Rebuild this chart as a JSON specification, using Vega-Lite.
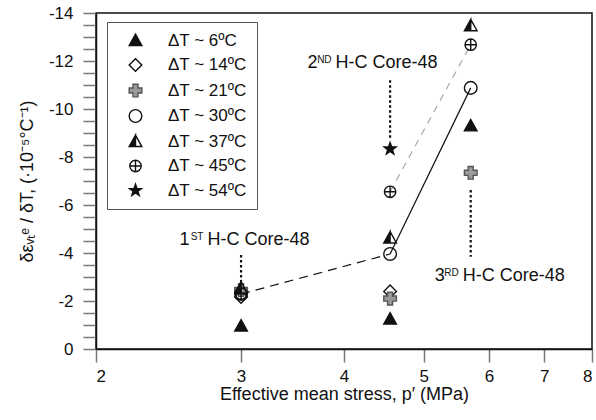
{
  "$schema": "https://vega.github.io/schema/vega-lite/v6.json",
  "width": 496,
  "height": 336,
  "autosize": "none",
  "padding": {"left": 96, "top": 13, "right": 4, "bottom": 71},
  "config": {
    "font": "Liberation Sans",
    "view": {"stroke": "#111", "strokeWidth": 1.5},
    "axis": {
      "domainColor": "#111", "domainWidth": 1.5,
      "tickColor": "#777", "tickWidth": 1.5,
      "labelFont": "Liberation Sans", "labelFontSize": 17, "labelColor": "#111",
      "titleFont": "Liberation Sans", "titleFontSize": 18, "titleFontWeight": "normal", "titleColor": "#111",
      "grid": false
    },
    "legend": {"labelFontSize": 17, "labelFont": "Liberation Sans", "labelColor": "#111", "labelOffset": 24, "rowPadding": 6.5, "padding": 10, "symbolOffset": 10, "strokeColor": "#555", "fillColor": "white", "labelLimit": 200, "symbolStrokeWidth": 1.4, "symbolSize": 160}
  },
  "encoding": {
    "x": {
      "field": "x", "type": "quantitative",
      "scale": {"type": "log", "domain": [2, 8], "nice": false},
      "axis": {
        "values": [2, 3, 4, 5, 6, 7, 8],
        "labelExpr": "'' + datum.value",
        "tickSize": 13, "labelPadding": 6, "titlePadding": 1,
        "title": "Effective mean stress, p′ (MPa)"
      }
    },
    "y": {
      "field": "y", "type": "quantitative",
      "scale": {"domain": [0, -14], "nice": false, "zero": false},
      "axis": {
        "values": [0, -0.5, -1, -1.5, -2, -2.5, -3, -3.5, -4, -4.5, -5, -5.5, -6, -6.5, -7, -7.5, -8, -8.5, -9, -9.5, -10, -10.5, -11, -11.5, -12, -12.5, -13, -13.5, -14],
        "labelExpr": "datum.value % 2 === 0 ? '' + datum.value : ''",
        "tickSize": 13,
        "encode": {"ticks": {"update": {"x2": {"signal": "datum.value % 2 === 0 ? -13 : -5"}}}},
        "labelPadding": 10, "titlePadding": 12,
        "title": "δεᵥₜᵉ / δT, (·10⁻⁵°C⁻¹)"
      }
    }
  },
  "layer": [
    {
      "data": {"values": [{"x": 3.0, "y": -2.29}, {"x": 4.55, "y": -3.96}]},
      "mark": {"type": "line", "strokeWidth": 1.2, "color": "#111", "strokeDash": [9, 6]}
    },
    {
      "data": {"values": [{"x": 4.55, "y": -3.96}, {"x": 5.7, "y": -10.88}]},
      "mark": {"type": "line", "strokeWidth": 1.2, "color": "#111"}
    },
    {
      "data": {"values": [{"x": 4.55, "y": -6.55}, {"x": 5.7, "y": -12.68}]},
      "mark": {"type": "line", "strokeWidth": 1.2, "color": "#aaa", "strokeDash": [7, 6]}
    },
    {
      "data": {"values": [
        {"x": 3.0, "y": -3.92, "y2": -2.75},
        {"x": 4.55, "y": -11.2, "y2": -8.7},
        {"x": 5.7, "y": -6.63, "y2": -3.84}
      ]},
      "mark": {"type": "rule", "color": "#111", "strokeWidth": 2.2, "strokeDash": [2.5, 2.5]},
      "encoding": {"y2": {"field": "y2"}}
    },
    {
      "data": {"values": [
        {"x": 2.731, "y": -4.34, "t": "H-C Core-48"},
        {"x": 3.907, "y": -11.72, "t": "H-C Core-48"},
        {"x": 5.575, "y": -2.84, "t": "H-C Core-48"}
      ]},
      "mark": {"type": "text", "align": "left", "baseline": "alphabetic", "fontSize": 18, "font": "Liberation Sans", "color": "#111"},
      "encoding": {"text": {"field": "t", "type": "nominal"}}
    },
    {
      "data": {"values": [
        {"x": 2.731, "y": -4.34, "t": "ST"},
        {"x": 3.907, "y": -11.72, "t": "ND"},
        {"x": 5.575, "y": -2.84, "t": "RD"}
      ]},
      "mark": {"type": "text", "align": "right", "baseline": "alphabetic", "fontSize": 10, "dx": -4, "dy": -5, "font": "Liberation Sans", "color": "#111"},
      "encoding": {"text": {"field": "t", "type": "nominal"}}
    },
    {
      "data": {"values": [
        {"x": 2.731, "y": -4.34, "t": "1"},
        {"x": 3.907, "y": -11.72, "t": "2"},
        {"x": 5.575, "y": -2.84, "t": "3"}
      ]},
      "mark": {"type": "text", "align": "right", "baseline": "alphabetic", "fontSize": 18, "dx": -18, "font": "Liberation Sans", "color": "#111"},
      "encoding": {"text": {"field": "t", "type": "nominal"}}
    },
    {
      "data": {"values": [
        {"s": "ΔT ~ 6ºC", "x": 3.0, "y": -0.96},
        {"s": "ΔT ~ 6ºC", "x": 4.55, "y": -1.25},
        {"s": "ΔT ~ 6ºC", "x": 5.7, "y": -9.3},
        {"s": "ΔT ~ 14ºC", "x": 3.0, "y": -2.17},
        {"s": "ΔT ~ 14ºC", "x": 4.55, "y": -2.4},
        {"s": "ΔT ~ 21ºC", "x": 3.0, "y": -2.46},
        {"s": "ΔT ~ 21ºC", "x": 4.55, "y": -2.1},
        {"s": "ΔT ~ 21ºC", "x": 5.7, "y": -7.34},
        {"s": "ΔT ~ 30ºC", "x": 3.0, "y": -2.29},
        {"s": "ΔT ~ 30ºC", "x": 4.55, "y": -3.96},
        {"s": "ΔT ~ 30ºC", "x": 5.7, "y": -10.88},
        {"s": "ΔT ~ 37ºC", "x": 3.0, "y": -2.54},
        {"s": "ΔT ~ 37ºC", "x": 4.55, "y": -4.63},
        {"s": "ΔT ~ 37ºC", "x": 5.7, "y": -13.47},
        {"s": "ΔT ~ 45ºC", "x": 3.0, "y": -2.3},
        {"s": "ΔT ~ 45ºC", "x": 4.55, "y": -6.55},
        {"s": "ΔT ~ 45ºC", "x": 5.7, "y": -12.68},
        {"s": "ΔT ~ 54ºC", "x": 4.55, "y": -8.34}
      ]},
      "mark": {"type": "point", "filled": true, "strokeWidth": 1.4, "size": 160, "opacity": 1},
      "encoding": {
        "shape": {
          "field": "s", "type": "nominal", "title": null,
          "scale": {
            "domain": ["ΔT ~ 6ºC", "ΔT ~ 14ºC", "ΔT ~ 21ºC", "ΔT ~ 30ºC", "ΔT ~ 37ºC", "ΔT ~ 45ºC", "ΔT ~ 54ºC"],
            "range": [
              "M0,-1L1,0.8L-1,0.8Z",
              "diamond",
              "cross",
              "circle",
              "M0,-1L-1,0.8L0,0.8ZM0,-1L1,0.8L0,0.8L1,0.8Z",
              "M-0.9,0C-0.9,-0.5,-0.5,-0.9,0,-0.9C0.5,-0.9,0.9,-0.5,0.9,0C0.9,0.5,0.5,0.9,0,0.9C-0.5,0.9,-0.9,0.5,-0.9,0ZM-0.9,0L0.9,0M0,-0.9L0,0.9",
              "M0,-1L0.235,-0.324L0.951,-0.309L0.38,0.124L0.588,0.809L0,0.4L-0.588,0.809L-0.38,0.124L-0.951,-0.309L-0.235,-0.324Z"
            ]
          },
          "legend": {"orient": "none", "legendX": 11, "legendY": 9, "symbolSize": 160}
        },
        "fill": {
          "field": "s", "type": "nominal", "title": null,
          "scale": {
            "domain": ["ΔT ~ 6ºC", "ΔT ~ 14ºC", "ΔT ~ 21ºC", "ΔT ~ 30ºC", "ΔT ~ 37ºC", "ΔT ~ 45ºC", "ΔT ~ 54ºC"],
            "range": ["#111", "transparent", "#9a9a9a", "transparent", "#111", "transparent", "#111"]
          },
          "legend": {"orient": "none", "legendX": 11, "legendY": 9, "symbolSize": 160}
        },
        "stroke": {
          "field": "s", "type": "nominal", "title": null,
          "scale": {
            "domain": ["ΔT ~ 6ºC", "ΔT ~ 14ºC", "ΔT ~ 21ºC", "ΔT ~ 30ºC", "ΔT ~ 37ºC", "ΔT ~ 45ºC", "ΔT ~ 54ºC"],
            "range": ["#111", "#111", "#555", "#111", "#111", "#111", "#111"]
          },
          "legend": {"orient": "none", "legendX": 11, "legendY": 9, "symbolSize": 160}
        }
      }
    }
  ]
}
